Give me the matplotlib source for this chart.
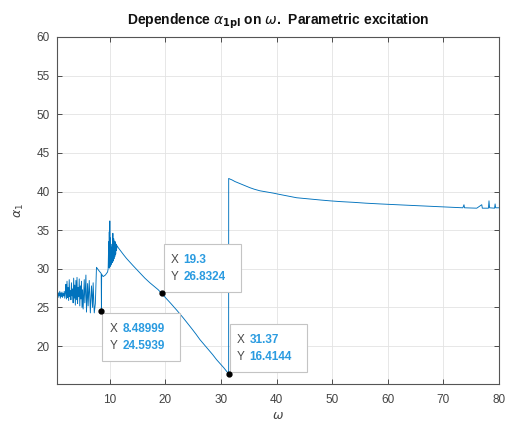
import numpy as np
import matplotlib
matplotlib.use('Agg')
import matplotlib.pyplot as plt
from matplotlib.patches import Rectangle
from matplotlib.transforms import ScaledTranslation

plt.rcParams['font.family'] = ['Liberation Sans', 'DejaVu Sans']
plt.rcParams['mathtext.fontset'] = 'dejavusans'

# low-frequency region: oscillating branch up to the dip at 8.49
omega_low = [0.5, 0.6, 0.7, 0.8, 0.9, 1.0, 1.1, 1.2, 1.3, 1.4, 1.5, 1.6, 1.7, 1.8, 1.9, 2.0,
             2.1, 2.2, 2.3, 2.4, 2.5, 2.6, 2.7, 2.8, 2.9, 3.0, 3.1, 3.2, 3.3,
             3.4, 3.5, 3.6, 3.7, 3.8, 3.9, 4.0, 4.1, 4.2, 4.3, 4.4, 4.5, 4.6, 4.7, 4.8, 4.9, 5.0, 5.1,
             5.2, 5.4, 5.5, 5.7, 5.8, 6.0, 6.1, 6.3, 6.5, 6.7, 6.9, 7.0, 7.2, 7.4,
             7.6, 8.0, 8.45, 8.48999, 8.53, 8.8, 9.2, 9.6]
alpha_low = [26.6, 27.0, 26.3, 26.9, 26.5, 27.1, 26.2, 26.9, 26.4, 27.0, 26.3, 26.8, 26.5, 27.1, 26.2, 26.9,
             28.0, 26.1, 28.4, 26.3, 27.6, 25.9, 28.6, 26.4, 27.2, 26.0, 28.2, 26.5, 27.4,
             25.6, 28.8, 26.2, 27.9, 25.3, 28.5, 26.0, 28.9, 25.5, 27.6, 26.4, 28.7, 25.2, 27.8, 26.1, 28.4, 25.0, 27.3,
             24.8, 28.6, 25.6, 29.2, 24.4, 28.1, 25.2, 28.5, 24.3, 27.8, 25.0, 28.2, 24.3, 25.5,
             30.2, 29.8, 29.4, 24.5939, 29.3, 29.0, 29.2, 29.6]

# resonance burst near 10 and the decaying branch down to 31.37
omega_mid = [9.7, 9.8, 9.85, 9.9, 9.95, 10.0, 10.05, 10.1, 10.15, 10.2, 10.3, 10.35, 10.45, 10.55,
             10.6, 10.7, 10.75, 10.85, 10.9, 11.0, 11.05, 11.15, 11.2, 11.3,
             11.5, 12.5, 13.0, 14.2, 15.5, 16.3, 17.2, 18.7, 19.3, 20.2, 21.0, 22.1, 23.2, 24.7,
             25.5, 26.2, 27.8, 28.5, 29.2, 30.0, 30.5, 31.0, 31.37]
alpha_mid = [30.0, 33.5, 30.2, 34.8, 30.1, 36.2, 30.3, 34.0, 30.4, 33.2, 30.6, 32.8, 30.8, 34.6,
             31.0, 33.9, 31.3, 33.6, 31.6, 33.5, 31.9, 33.2, 32.4, 33.0,
             32.75, 31.8, 31.35, 30.4, 29.4, 28.8, 28.2, 27.3, 26.8324, 26.15, 25.5, 24.6, 23.66, 22.3,
             21.55, 20.85, 19.5, 18.9, 18.25, 17.6, 17.2, 16.75, 16.4144]

# upper branch after the jump
omega_high = [31.38, 31.6, 32.0, 32.5, 33.5, 34.3, 35.2, 36.0, 37.0, 38.2, 39.4, 40.4, 41.5, 42.5,
              43.6, 45.0, 46.5, 48.0, 49.6, 51.5, 54.0, 56.0, 58.6, 60.8, 63.0, 65.3, 67.6,
              70.5, 73.5, 73.7, 73.8, 76.0, 76.9, 77.0, 78.1, 78.2, 78.3, 79.2, 79.3, 79.4, 80.0]
alpha_high = [41.7, 41.62, 41.5, 41.3, 41.0, 40.75, 40.5, 40.3, 40.1, 39.95, 39.8, 39.65, 39.5, 39.35,
              39.2, 39.1, 39.0, 38.9, 38.8, 38.7, 38.6, 38.5, 38.4, 38.33, 38.25, 38.17, 38.1,
              38.0, 37.9, 38.3, 37.9, 37.85, 38.3, 37.85, 37.85, 38.8, 37.9, 37.85, 38.4, 37.9, 37.9]

# data tips: (x, y, box offset in px from the point: left, top)
tips = [(8.48999, 24.5939, 1, -2),
        (19.3, 26.8324, 2, 49),
        (31.37, 16.4144, 1, 50)]
tip_x_text = ['8.48999', '19.3', '31.37']
tip_y_text = ['24.5939', '26.8324', '16.4144']

omega = np.concatenate([omega_low, omega_mid, omega_high])
alpha = np.concatenate([alpha_low, alpha_mid, alpha_high])

fig = plt.figure(figsize=(5.05, 4.26), dpi=100)
ax = fig.add_axes([57 / 505, 42 / 426, 442 / 505, 347 / 426])

ax.plot(omega, alpha, color='#0072BD', linewidth=0.65)

ax.set_xlim(0.5, 80)
ax.set_ylim(15.1, 60)
ax.set_xticks(np.arange(10, 81, 10))
ax.set_yticks(np.arange(20, 61, 5))
ax.grid(True, color='#e3e3e3', linewidth=0.6)
ax.set_axisbelow(True)
ax.tick_params(direction='in', length=3.5, width=0.6, color='#333333',
               labelcolor='#444444', labelsize=8.5, top=True, right=True)
ax.tick_params(axis='x', pad=7)
ax.tick_params(axis='y', pad=5)
for s in ax.spines.values():
    s.set_color('#555555')
    s.set_linewidth(0.8)

ax.set_title(r'Dependence $\alpha_{\mathbf{1pl}}$ on $\omega$.  Parametric excitation',
             fontsize=10, fontweight='bold', color='#111111', pad=9)
ax.set_xlabel(r'$\omega$', fontsize=9, color='#444444', labelpad=3)
ax.set_ylabel(r'$\alpha_1$', fontsize=9, color='#444444', labelpad=8)

w, h = 77.5, 48.0
for (x, y, dx, dy), xs, ys in zip(tips, tip_x_text, tip_y_text):
    tr = fig.dpi_scale_trans + ScaledTranslation(x, y, ax.transData)
    left = dx / 100
    top = dy / 100
    ax.add_patch(Rectangle((left, top - h / 100), w / 100, h / 100, transform=tr,
                           facecolor='white', edgecolor='#c4c4c4', linewidth=0.8,
                           zorder=5, clip_on=False))
    ax.plot([x], [y], 'o', color='black', markersize=3.5, zorder=6)
    ax.text(left + 7 / 100, top - 16 / 100, 'X', transform=tr, fontsize=8.5,
            color='#4a4a4a', va='center', zorder=7)
    ax.text(left + 20 / 100, top - 16 / 100, xs, transform=tr, fontsize=8.5,
            color='#2a9be0', fontweight='bold', va='center', zorder=7)
    ax.text(left + 7 / 100, top - 33 / 100, 'Y', transform=tr, fontsize=8.5,
            color='#4a4a4a', va='center', zorder=7)
    ax.text(left + 20 / 100, top - 33 / 100, ys, transform=tr, fontsize=8.5,
            color='#2a9be0', fontweight='bold', va='center', zorder=7)

fig.savefig('out.png', dpi=100)
